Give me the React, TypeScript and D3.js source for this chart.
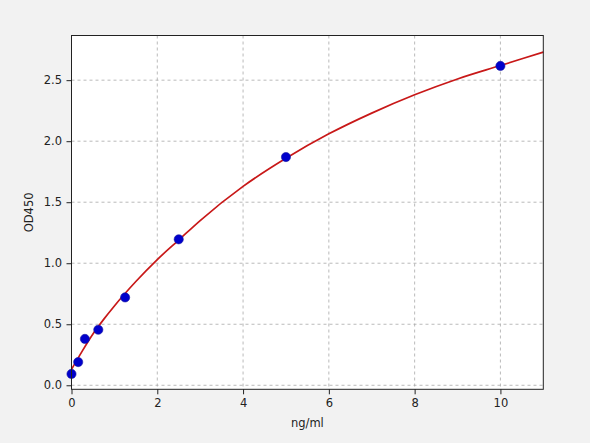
import React, { useEffect, useRef } from "react";
import * as d3 from "d3";

// standard points (ng/ml -> OD450)
const stdConc = [0, 0.156, 0.3125, 0.625, 1.25, 2.5, 5, 10];
const stdOD = [0.093, 0.19, 0.38, 0.455, 0.72, 1.196, 1.87, 2.617];

// fitted curve
const fitConc = [0, 0.25, 0.5, 0.75, 1, 1.5, 2, 2.5, 3, 4, 5, 6, 7, 8, 9, 10, 11];
const fitOD = [0.13, 0.28, 0.42, 0.54, 0.65, 0.85, 1.03, 1.19, 1.35, 1.63, 1.86, 2.06, 2.23, 2.38, 2.51, 2.62, 2.73];

const xTicks = [0, 2, 4, 6, 8, 10];
const yTicks = [0, 0.5, 1.0, 1.5, 2.0, 2.5];

const W = 590;
const H = 443;
const m = { left: 71.5, right: 543.3, top: 35.5, bottom: 389.3 };

const App = () => {
  const svgRef = useRef<SVGSVGElement>(null);

  useEffect(() => {
    document.body.style.margin = "0";
    document.body.style.overflow = "hidden";
    document.body.style.background = "#f2f2f2";

    const svg = d3.select(svgRef.current);
    svg.selectAll("*").remove();

    const x = d3.scaleLinear().domain([0, 11]).range([m.left, m.right]);
    const y = d3.scaleLinear().domain([-0.033, 2.866]).range([m.bottom, m.top]);

    svg.append("rect").attr("width", W).attr("height", H).attr("fill", "#f2f2f2");
    svg
      .append("rect")
      .attr("x", m.left)
      .attr("y", m.top)
      .attr("width", m.right - m.left)
      .attr("height", m.bottom - m.top)
      .attr("fill", "#ffffff");

    // grid
    const grid = svg.append("g").attr("stroke", "#a8a8a8").attr("stroke-width", 0.8).attr("stroke-dasharray", "3,3");
    xTicks.forEach((t) => {
      grid.append("line").attr("x1", x(t)).attr("x2", x(t)).attr("y1", m.top).attr("y2", m.bottom);
    });
    yTicks.forEach((t) => {
      grid.append("line").attr("x1", m.left).attr("x2", m.right).attr("y1", y(t)).attr("y2", y(t));
    });

    // fit line
    const line = d3
      .line<number>()
      .x((_, i) => x(fitConc[i]))
      .y((d) => y(d))
      .curve(d3.curveMonotoneX);
    svg
      .append("path")
      .attr("d", line(fitOD))
      .attr("fill", "none")
      .attr("stroke", "#c81818")
      .attr("stroke-width", 1.7);

    // points
    svg
      .append("g")
      .selectAll("circle")
      .data(stdOD)
      .join("circle")
      .attr("cx", (_, i) => x(stdConc[i]))
      .attr("cy", (d) => y(d))
      .attr("r", 4.6)
      .attr("fill", "#0000cc")
      .attr("stroke", "#1a1aa0")
      .attr("stroke-width", 0.6);

    // frame
    svg
      .append("rect")
      .attr("x", m.left)
      .attr("y", m.top)
      .attr("width", m.right - m.left)
      .attr("height", m.bottom - m.top)
      .attr("fill", "none")
      .attr("stroke", "#222")
      .attr("stroke-width", 1);

    const font = "DejaVu Sans, sans-serif";
    const xAxis = d3.axisBottom(x).tickValues(xTicks).tickFormat(d3.format("d")).tickSize(5).tickPadding(5);
    const gx = svg.append("g").attr("transform", `translate(0,${m.bottom})`).call(xAxis);
    const yAxis = d3.axisLeft(y).tickValues(yTicks).tickFormat(d3.format(".1f")).tickSize(5).tickPadding(4.5);
    const gy = svg.append("g").attr("transform", `translate(${m.left},0)`).call(yAxis);
    [gx, gy].forEach((g) => {
      g.select(".domain").remove();
      g.selectAll("line").attr("stroke", "#222");
      g.selectAll("text").attr("font-family", font).attr("font-size", 11.5).attr("fill", "#222");
    });

    svg
      .append("text")
      .attr("x", (m.left + m.right) / 2)
      .attr("y", 426.5)
      .attr("text-anchor", "middle")
      .attr("font-family", font)
      .attr("font-size", 11.5)
      .attr("fill", "#222")
      .text("ng/ml");

    svg
      .append("text")
      .attr("transform", `translate(33,${(m.top + m.bottom) / 2}) rotate(-90)`)
      .attr("text-anchor", "middle")
      .attr("font-family", font)
      .attr("font-size", 11.5)
      .attr("fill", "#222")
      .text("OD450");
  }, []);

  return <svg ref={svgRef} width={W} height={H} style={{ display: "block" }}></svg>;
};

export default App;
